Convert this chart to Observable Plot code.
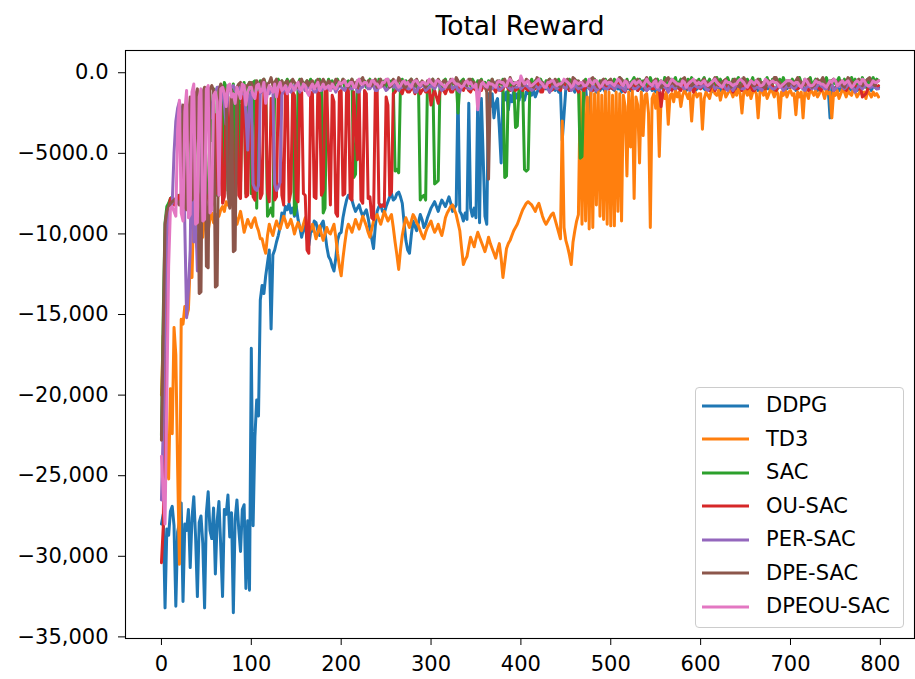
<!DOCTYPE html>
<html>
<head>
<meta charset="utf-8">
<script src="https://cdn.jsdelivr.net/npm/d3@7"></script>
<script src="https://cdn.jsdelivr.net/npm/@observablehq/plot@0.6"></script>
<style>
  html, body { margin: 0; padding: 0; background: #fff; overflow: hidden; }
  #fig { position: relative; width: 915px; height: 679px; font-family: "DejaVu Sans", sans-serif; color: #000; }
  #title { margin-left: 125px; width: 790px; height: 40px; box-sizing: border-box; padding-top: 13px;
           text-align: center; font-size: 26.5px; line-height: 26.5px; }
  #chart svg { display: block; }
  #legend { position: absolute; left: 695px; top: 387px; width: 209px; height: 241px; box-sizing: border-box;
            border: 1px solid #cccccc; border-radius: 4px; background: rgba(255,255,255,0.8); padding-top: 1px; }
  #legend .item { height: 33.5px; display: flex; align-items: center; font-size: 21px; line-height: 21px; }
  #legend .item svg { margin-left: 6px; display: block; }
  #legend .item span { margin-left: 17px; }
</style>
</head>
<body>
<div id="fig">
  <div id="title">Total Reward</div>
  <div id="chart"></div>
  <div id="legend"></div>
</div>
<script>
// Algorithms in drawing order (the last one ends up on top) and their colours.
const seriesNames = ["DDPG", "TD3", "SAC", "OU-SAC", "PER-SAC", "DPE-SAC", "DPEOU-SAC"];
const seriesColors = ["#1f77b4", "#ff7f0e", "#2ca02c", "#d62728", "#9467bd", "#8c564b", "#e377c2"];

// One reward value is kept every `episodeStep` episodes (episodes 0 … 798).
const episodeStep = 2;

const xTicks = [0, 100, 200, 300, 400, 500, 600, 700, 800];
const yTicks = [0, -5000, -10000, -15000, -20000, -25000, -30000, -35000];
const yTickLabels = ["0.0", "\u22125000.0", "\u221210,000", "\u221215,000", "\u221220,000", "\u221225,000", "\u221230,000", "\u221235,000"];

// Total reward per episode, one line per 100 episodes.
const ddpg = [
  -28000, -27400, -33200, -28300, -28700, -27200, -26900, -28100, -33100, -28500, -27900, -26700, -32800, -28000, -28400, -27100, -30700, -27600, -26300, -28800, -32500, -27900, -27500, -29200, -33200, -27300, -26000, -28400, -28900, -27000, -31100, -27800, -26600, -29400, -32500, -27100, -27400, -26200, -28800, -27300, -33500, -27700, -26500, -28300, -29700, -27100, -26800, -32000, -27800, -32100,
  -17100, -28100, -22600, -20300, -21300, -14100, -13200, -13700, -12600, -11800, -11000, -15900, -11300, -11000, -10500, -10100, -9600, -8700, -9000, -8300, -8500, -8100, -8700, -8400, -8900, -8300, -9100, -9600, -10200, -9700, -9500, -10300, -10700, -9900, -9800, -9200, -9300, -9800, -10100, -9400, -9200, -9900, -10800, -11400, -11600, -12000, -12300, -11500, -10400, -10000,
  -9900, -9000, -8400, -7900, -7600, -7700, -7900, -8300, -8600, -8400, -8200, -8600, -8900, -8700, -8500, -9000, -9700, -10300, -10900, -9500, -8600, -8300, -8200, -8600, -8700, -8300, -8000, -7700, -7500, -7900, -7800, -7500, -7400, -7700, -8100, -9300, -10400, -11000, -11200, -10100, -9200, -9500, -9800, -9300, -8800, -9100, -9600, -9400, -9000, -8700,
  -8400, -8200, -8000, -8300, -8600, -8200, -7900, -8100, -8300, -8000, -7700, -8100, -8600, -8400, -8200, -1100, -8600, -8800, -9200, -8700, -9100, -1900, -8400, -8900, -8400, -9000, -1500, -9300, -1600, -5200, -8900, -9400, -1300, -2100, -1300, -2800, -1900, -1600, -3400, -5600, -1200, -1700, -1200, -2300, -1400, -1800, -1100, -1600, -1300, -1700,
  -1100, -1500, -1700, -1200, -1300, -1000, -1400, -1100, -1500, -1200, -1000, -900, -1100, -800, -1000, -900, -1200, -800, -1000, -1100, -900, -1200, -1000, -4200, -2600, -1000, -800, -1100, -900, -1000, -1200, -900, -1100, -800, -1000, -1200, -900, -2200, -2600, -1100, -900, -1000, -1200, -800, -1100, -900, -1000, -1200, -800, -1000,
  -900, -1000, -1100, -800, -1000, -900, -1200, -800, -700, -1000, -900, -1100, -1000, -800, -800, -1100, -900, -1000, -1100, -700, -900, -1000, -700, -1100, -1000, -1200, -1200, -900, -800, -1000, -900, -800, -1100, -900, -800, -1000, -1000, -900, -900, -800, -700, -1000, -1100, -900, -900, -800, -800, -1100, -1000, -900,
  -800, -900, -1000, -1100, -900, -800, -1200, -1000, -700, -900, -900, -1100, -1100, -800, -800, -1000, -1000, -900, -900, -1200, -800, -1000, -1100, -700, -700, -900, -900, -1000, -1000, -1100, -800, -900, -1100, -1000, -900, -800, -700, -1000, -1000, -900, -800, -1100, -1200, -900, -900, -800, -800, -1000, -1000, -900,
  -900, -800, -800, -1100, -1000, -900, -700, -1000, -1100, -800, -900, -1000, -800, -700, -1000, -1100, -900, -800, -700, -900, -1100, -1000, -2800, -900, -900, -1000, -800, -1100, -1000, -900, -700, -800, -900, -1000, -1100, -900, -800, -1100, -1000, -900, -900, -800, -700, -1000, -900, -1100, -800, -900, -1000, -900
];
const td3 = [
  -20000, -16300, -17000, -23800, -25200, -19600, -22400, -15800, -17500, -24500, -30500, -15300, -15600, -14500, -15100, -14700, -11800, -12700, -8100, -10300, -10900, -11600, -9600, -10200, -9000, -9500, -9800, -9100, -8700, -9300, -9400, -8800, -8900, -8500, -8300, -8600, -8000, -8200, -8300, -8100, -8200, -8800, -9400, -9000, -8600, -9200, -9900, -9500, -9100, -9400,
  -9600, -9200, -9000, -9500, -9800, -10300, -10300, -10800, -11200, -10100, -9400, -9800, -10100, -9600, -9200, -9500, -9700, -9300, -8900, -9200, -9600, -9400, -9100, -9500, -10000, -9600, -9300, -9600, -9800, -9400, -9000, -9500, -9900, -9700, -9400, -9800, -10300, -9900, -9500, -10000, -10400, -10000, -9600, -9900, -10000, -9700, -9400, -10200, -11200, -12000,
  -12600, -11500, -10600, -9800, -9400, -9600, -9900, -9500, -9100, -9400, -9700, -9300, -8900, -9200, -9500, -9900, -10200, -9700, -9200, -9000, -8800, -9100, -9400, -9000, -8600, -8900, -9200, -9000, -8800, -9600, -10500, -11300, -12200, -11000, -10100, -9500, -9000, -9300, -9600, -9200, -8800, -9000, -9300, -9500, -9800, -10100, -10300, -9900, -9600, -9400,
  -9200, -9600, -9900, -9700, -9400, -9800, -10100, -9600, -9000, -8700, -8500, -8300, -8200, -8500, -8800, -9300, -9800, -10900, -11900, -11600, -11400, -10800, -10200, -10500, -10800, -10300, -9900, -10200, -10500, -10800, -11100, -10700, -10200, -10600, -10900, -11200, -11500, -11000, -10600, -11500, -12700, -11800, -10900, -10600, -10400, -10100, -9800, -9600, -9400, -9100,
  -8800, -8500, -8300, -8100, -8000, -8100, -8200, -8400, -8600, -8300, -8100, -8500, -8900, -9200, -9400, -9200, -9000, -8800, -8700, -9100, -9500, -9900, -10300, -3000, -9600, -10400, -10800, -11300, -11900, -10500, -9800, -9200, -8800, -1200, -9400, -1000, -9200, -1500, -9700, -1100, -9600, -1300, -8200, -1000, -8900, -1400, -9100, -1100, -9400, -1200,
  -9500, -1400, -9500, -1200, -8600, -1300, -9200, -1400, -2100, -6400, -1200, -4600, -1100, -7800, -1500, -2000, -5600, -1200, -3900, -1400, -1300, -2500, -9600, -1600, -1300, -2200, -1200, -5200, -1500, -1300, -1600, -1200, -3200, -1400, -1300, -1800, -1100, -1500, -1200, -2100, -1400, -1100, -1300, -1600, -1200, -3000, -1400, -1200, -1500, -1300,
  -1300, -3500, -1600, -1200, -1400, -1600, -1100, -1000, -1300, -1400, -1100, -1700, -1200, -1000, -1500, -1300, -1100, -1200, -1500, -1100, -1400, -1000, -1300, -2500, -1200, -1100, -1400, -1000, -1600, -1200, -1100, -1300, -2800, -1200, -1000, -1400, -1100, -1600, -1300, -1000, -1200, -1500, -1100, -1300, -2800, -1200, -1400, -1000, -1500, -1200,
  -1100, -1400, -1300, -2600, -1200, -1500, -1200, -2800, -1100, -1300, -1600, -1000, -1200, -1400, -1100, -1500, -1300, -1000, -1200, -1600, -1100, -1300, -1200, -2800, -1200, -1400, -1100, -1600, -1300, -1000, -1200, -1500, -1100, -1300, -1400, -1000, -1200, -1500, -1300, -1100, -1400, -1200, -1600, -1100, -1300, -1500, -1200, -1400, -1300, -1500
];
const sac = [
  -22500, -15000, -9300, -8300, -8100, -7800, -7700, -8100, -8000, -7600, -7800, -8000, -2200, -7900, -7900, -8300, -8200, -1500, -7700, -8100, -7600, -7900, -8000, -1200, -7800, -7500, -7500, -4000, -4200, -1000, -7400, -7600, -1100, -900, -7300, -600, -900, -7300, -7500, -1200, -700, -7900, -1000, -800, -6800, -1100, -600, -7500, -900, -600,
  -7500, -600, -500, -8400, -1200, -500, -900, -400, -700, -8900, -8700, -8400, -8900, -1000, -600, -400, -900, -500, -1000, -700, -400, -800, -500, -900, -8800, -8300, -700, -400, -900, -600, -1100, -500, -800, -400, -700, -900, -500, -800, -400, -600, -8700, -8400, -800, -400, -700, -500, -900, -600, -400, -800,
  -700, -400, -900, -600, -500, -800, -400, -6500, -6300, -500, -800, -400, -700, -500, -900, -600, -400, -800, -500, -700, -1000, -400, -800, -600, -500, -900, -400, -700, -500, -800, -6100, -6000, -6200, -700, -400, -900, -500, -800, -600, -400, -700, -500, -900, -600, -7900, -7700, -7600, -7900, -700, -500,
  -800, -400, -6900, -6800, -6700, -600, -900, -500, -400, -800, -600, -900, -500, -700, -400, -2500, -800, -500, -400, -900, -700, -500, -800, -400, -600, -900, -500, -700, -400, -800, -600, -900, -500, -700, -400, -800, -600, -900, -500, -700, -400, -6500, -6400, -800, -500, -900, -600, -3400, -3300, -700,
  -500, -800, -6000, -6100, -6000, -700, -400, -900, -500, -800, -600, -400, -700, -900, -500, -800, -400, -600, -900, -500, -700, -400, -800, -600, -900, -500, -700, -400, -800, -600, -900, -500, -700, -5300, -5200, -800, -400, -900, -600, -500, -800, -400, -700, -900, -500, -600, -800, -400, -700, -500,
  -500, -800, -400, -700, -600, -300, -800, -500, -700, -400, -900, -600, -500, -300, -700, -800, -400, -600, -500, -900, -400, -700, -300, -600, -800, -600, -400, -700, -500, -900, -300, -600, -800, -400, -700, -500, -300, -800, -600, -400, -700, -500, -900, -400, -600, -300, -700, -500, -800, -400,
  -700, -500, -300, -800, -600, -400, -700, -500, -900, -300, -600, -400, -800, -500, -700, -300, -600, -900, -400, -700, -500, -300, -600, -400, -500, -800, -400, -700, -600, -300, -800, -500, -700, -400, -900, -600, -500, -300, -700, -800, -400, -600, -500, -900, -400, -700, -300, -600, -800, -500,
  -600, -400, -700, -500, -900, -300, -600, -800, -400, -700, -500, -300, -800, -600, -400, -700, -500, -900, -400, -600, -300, -700, -500, -800, -400, -700, -500, -300, -800, -600, -400, -700, -500, -900, -300, -600, -400, -800, -500, -700, -300, -600, -900, -400, -700, -500, -300, -600, -400, -500
];
const ouSac = [
  -30400, -28200, -18000, -11000, -8500, -7800, -7800, -8200, -8200, -7900, -7600, -8000, -8300, -7700, -7900, -8200, -8100, -7600, -7700, -8000, -8400, -7800, -7500, -8100, -8000, -7600, -7700, -8200, -8300, -7900, -2600, -7500, -7600, -1900, -8100, -7700, -1800, -1500, -7400, -2300, -8200, -7900, -1500, -7600, -7800, -1000, -1300, -7700, -7600, -2000,
  -3400, -7700, -7900, -1300, -1200, -7800, -7500, -1100, -1000, -7400, -8000, -1600, -2000, -7900, -7700, -900, -1100, -7600, -8200, -1000, -900, -8000, -7400, -1200, -1400, -7800, -8000, -1100, -1000, -7500, -7600, -11000, -11200, -1300, -1200, -7700, -7800, -1000, -1500, -7600, -7300, -1100, -900, -5000, -8200, -1400, -1800, -8700, -8900, -1200,
  -1100, -7600, -7500, -1000, -900, -7800, -7900, -1200, -3300, -5400, -1000, -7900, -8100, -1100, -1300, -7800, -7700, -9000, -9100, -1200, -1000, -8100, -8300, -8200, -8300, -1500, -2000, -7600, -7400, -1300, -1200, -1000, -900, -1100, -1300, -900, -1000, -1200, -1200, -1000, -900, -1300, -1100, -900, -1300, -1100, -1000, -1200, -1200, -1000,
  -2000, -1400, -1100, -1500, -1900, -1200, -1000, -1100, -1300, -1000, -900, -1200, -1200, -900, -1000, -1100, -800, -1000, -1100, -800, -900, -1100, -1200, -900, -1000, -1100, -800, -1000, -1100, -800, -900, -1100, -1000, -800, -800, -1000, -1200, -900, -900, -1100, -1000, -800, -800, -1000, -1100, -900, -900, -1100, -1000, -900,
  -900, -1100, -700, -1000, -1100, -800, -700, -1000, -1000, -700, -600, -1200, -1200, -800, -900, -700, -700, -1100, -1000, -800, -800, -1000, -1100, -700, -600, -900, -900, -1100, -1000, -700, -700, -1000, -1200, -800, -800, -1100, -900, -600, -600, -1000, -1100, -900, -800, -1000, -1000, -700, -700, -900, -900, -1000,
  -800, -1000, -1000, -700, -600, -900, -900, -1100, -1200, -800, -700, -1000, -1000, -800, -800, -1100, -900, -700, -600, -1000, -1100, -800, -800, -1000, -1000, -700, -700, -1000, -2100, -1200, -900, -800, -800, -1000, -1100, -700, -600, -900, -1000, -1100, -800, -700, -900, -1000, -700, -900, -1200, -1000, -800, -900,
  -1000, -800, -700, -900, -900, -1100, -800, -700, -1100, -900, -600, -800, -900, -1000, -1000, -800, -700, -900, -1200, -1000, -800, -700, -900, -1100, -600, -800, -1000, -900, -800, -1100, -1100, -900, -700, -800, -900, -1000, -1000, -700, -600, -800, -800, -1000, -1100, -900, -700, -800, -900, -1000, -800, -900,
  -900, -800, -700, -1000, -1000, -900, -800, -700, -600, -900, -1100, -1000, -900, -800, -700, -900, -1000, -1100, -800, -700, -900, -1000, -600, -800, -1100, -1000, -800, -700, -700, -900, -1000, -1100, -900, -800, -600, -700, -800, -900, -1000, -900, -1500, -1400, -1300, -1000, -900, -800, -700, -800, -900, -800
];
const perSac = [
  -26500, -22000, -14500, -10000, -8600, -8300, -8100, -5000, -3000, -2200, -1800, -2300, -2500, -9500, -15200, -13500, -11000, -2300, -10500, -8700, -12300, -10200, -8300, -2500, -1400, -1200, -1000, -1900, -2800, -1100, -1200, -900, -900, -1300, -1100, -2000, -3200, -1200, -1000, -900, -800, -1100, -1200, -900, -900, -1300, -1000, -2600, -4800, -1500,
  -1200, -6900, -7200, -7300, -7000, -1300, -1100, -900, -900, -1200, -1300, -1000, -1000, -6900, -7300, -7100, -6800, -1400, -1100, -900, -900, -1100, -1200, -1000, -800, -900, -1000, -1200, -900, -800, -1100, -1000, -800, -900, -1000, -1200, -1200, -900, -900, -1100, -1000, -800, -800, -1000, -1100, -900, -900, -1200, -1000, -800,
  -900, -1000, -1100, -800, -700, -1000, -1000, -900, -800, -1200, -1200, -900, -900, -700, -700, -1000, -1000, -800, -800, -1100, -1100, -900, -600, -800, -900, -1100, -1000, -800, -800, -900, -700, -1000, -1100, -900, -900, -800, -800, -1000, -1000, -700, -700, -1200, -1200, -900, -900, -800, -800, -1100, -1000, -900,
  -800, -900, -1000, -800, -700, -900, -1100, -1000, -900, -700, -600, -800, -1000, -900, -800, -1100, -1200, -900, -700, -800, -900, -1000, -1000, -900, -800, -800, -1100, -1000, -700, -800, -900, -1000, -800, -700, -1000, -900, -600, -900, -1100, -1000, -900, -800, -700, -900, -1000, -1100, -800, -900, -900, -800,
  -1000, -900, -700, -800, -900, -1000, -1100, -1000, -800, -900, -1000, -800, -600, -700, -900, -1000, -1200, -1000, -800, -900, -1000, -900, -700, -800, -900, -1000, -800, -700, -1100, -1000, -700, -900, -1000, -900, -900, -800, -600, -800, -1000, -1100, -800, -900, -1100, -1000, -700, -800, -900, -1000, -1000, -900,
  -700, -900, -1000, -900, -800, -900, -900, -1000, -1100, -800, -600, -800, -900, -1000, -1000, -900, -800, -700, -700, -900, -1100, -1000, -900, -800, -800, -900, -1000, -1100, -700, -800, -900, -1000, -1200, -900, -800, -900, -1000, -800, -700, -800, -900, -1000, -800, -900, -1100, -900, -700, -800, -900, -900,
  -900, -800, -800, -1000, -1100, -900, -700, -800, -1000, -900, -900, -800, -600, -800, -1000, -1100, -800, -900, -1100, -900, -700, -800, -900, -1000, -1000, -900, -800, -700, -600, -800, -1000, -900, -900, -1000, -1100, -900, -700, -800, -800, -900, -1000, -1000, -900, -800, -700, -900, -1100, -1000, -800, -900,
  -800, -900, -1000, -900, -700, -800, -900, -1000, -1100, -900, -800, -900, -1000, -900, -1000, -800, -600, -800, -900, -1000, -1000, -900, -800, -700, -1100, -1000, -900, -800, -800, -900, -1000, -900, -700, -800, -900, -1000, -1200, -1000, -800, -900, -1000, -900, -700, -800, -900, -900, -800, -900, -1000, -1000
];
const dpeSac = [
  -22800, -16000, -9400, -8600, -8300, -8100, -8000, -7900, -7800, -8000, -8200, -7900, -2000, -8300, -8500, -2800, -1500, -7900, -7600, -1400, -1000, -13700, -13600, -1200, -900, -12000, -12100, -1000, -800, -1100, -13300, -13200, -1100, -700, -900, -1000, -1300, -7500, -8400, -1100, -11100, -11000, -900, -700, -600, -1000, -1200, -800, -800, -600,
  -600, -900, -1000, -500, -700, -800, -500, -400, -900, -700, -600, -300, -800, -600, -400, -900, -700, -500, -900, -600, -500, -800, -700, -400, -600, -700, -900, -500, -400, -800, -700, -500, -800, -600, -500, -900, -900, -400, -600, -700, -400, -600, -800, -500, -600, -900, -700, -400, -500, -800,
  -700, -400, -500, -800, -900, -600, -400, -700, -600, -900, -800, -500, -300, -700, -700, -500, -500, -800, -600, -400, -900, -600, -400, -800, -700, -500, -500, -900, -800, -400, -600, -700, -300, -500, -700, -900, -900, -600, -500, -400, -600, -800, -400, -700, -800, -500, -700, -900, -500, -600,
  -600, -400, -800, -700, -400, -600, -700, -500, -500, -900, -900, -400, -600, -700, -300, -500, -700, -800, -500, -600, -800, -400, -400, -700, -600, -900, -900, -500, -500, -800, -700, -1200, -6600, -900, -400, -700, -800, -500, -600, -700, -500, -400, -700, -800, -300, -600, -800, -700, -600, -500,
  -500, -800, -700, -400, -500, -600, -800, -900, -600, -300, -400, -700, -600, -900, -800, -500, -400, -600, -700, -400, -500, -800, -900, -700, -600, -500, -400, -900, -800, -300, -400, -600, -500, -800, -700, -500, -600, -700, -800, -400, -300, -600, -500, -900, -800, -500, -400, -700, -600, -500,
  -400, -700, -800, -600, -500, -300, -400, -700, -600, -500, -800, -900, -700, -600, -500, -400, -700, -800, -600, -500, -300, -600, -800, -700, -500, -400, -600, -700, -900, -800, -600, -400, -300, -700, -600, -500, -800, -700, -900, -600, -400, -300, -600, -700, -500, -800, -700, -600, -500, -600,
  -700, -500, -400, -600, -600, -900, -800, -500, -300, -400, -800, -700, -600, -500, -400, -700, -600, -900, -500, -400, -600, -800, -900, -700, -300, -500, -700, -600, -500, -800, -800, -500, -400, -600, -600, -900, -900, -700, -500, -600, -700, -300, -300, -600, -600, -800, -800, -700, -500, -800,
  -500, -600, -800, -500, -300, -500, -600, -800, -700, -500, -400, -700, -900, -800, -500, -400, -600, -500, -300, -600, -800, -900, -700, -500, -400, -500, -600, -700, -500, -800, -900, -600, -300, -400, -700, -800, -600, -500, -400, -700, -800, -600, -500, -400, -300, -600, -700, -800, -500, -500
];
const dpeouSac = [
  -23800, -26000, -28000, -20000, -12000, -8400, -8300, -8600, -8900, -3500, -1700, -8700, -9200, -2400, -1100, -9000, -8800, -1200, -700, -9400, -9300, -1500, -1000, -9200, -9100, -1000, -800, -8700, -8500, -1400, -1200, -1800, -7600, -1000, -900, -1300, -2100, -800, -700, -1500, -1300, -1900, -900, -1200, -1600, -700, -800, -2000, -1200, -900,
  -900, -1400, -1600, -800, -700, -1200, -1100, -600, -1900, -1300, -800, -1000, -1200, -700, -1500, -900, -600, -1100, -1000, -800, -1300, -1000, -700, -900, -1100, -800, -600, -1000, -1100, -700, -800, -1200, -1400, -900, -700, -1000, -800, -600, -1100, -900, -700, -1000, -900, -800, -1100, -700, -900, -1000, -800, -600,
  -700, -600, -500, -800, -800, -600, -600, -900, -900, -500, -400, -700, -700, -600, -600, -800, -800, -500, -500, -700, -700, -900, -900, -600, -600, -400, -400, -800, -700, -600, -500, -700, -900, -800, -600, -500, -700, -600, -800, -900, -600, -500, -500, -700, -800, -600, -600, -700, -700, -400,
  -600, -700, -800, -500, -500, -600, -700, -800, -900, -700, -600, -500, -400, -600, -700, -700, -800, -900, -800, -600, -500, -700, -600, -800, -900, -700, -2300, -1200, -700, -600, -800, -900, -600, -700, -700, -800, -900, -600, -500, -600, -600, -800, -800, -500, -400, -600, -700, -600, -600, -800,
  -200, -500, -700, -600, -500, -800, -800, -700, -600, -500, -400, -600, -700, -900, -900, -600, -600, -500, -500, -700, -800, -700, -700, -600, -400, -500, -600, -700, -900, -800, -500, -600, -700, -600, -600, -800, -800, -700, -400, -600, -700, -500, -500, -700, -900, -800, -600, -500, -700, -600,
  -600, -700, -800, -600, -400, -500, -700, -800, -500, -600, -900, -800, -600, -500, -700, -600, -500, -700, -800, -600, -400, -600, -700, -800, -600, -500, -900, -700, -500, -600, -700, -800, -800, -600, -400, -500, -600, -700, -700, -800, -500, -600, -900, -700, -600, -500, -400, -600, -700, -600,
  -700, -600, -500, -700, -800, -700, -600, -500, -400, -600, -700, -800, -900, -700, -500, -600, -600, -700, -800, -700, -700, -500, -400, -500, -600, -800, -900, -700, -500, -600, -700, -500, -600, -800, -800, -700, -400, -500, -700, -600, -500, -600, -600, -700, -900, -800, -700, -600, -500, -500,
  -500, -600, -700, -600, -600, -800, -900, -700, -400, -500, -700, -800, -800, -700, -500, -600, -600, -700, -700, -800, -900, -700, -500, -600, -400, -500, -800, -700, -600, -500, -700, -600, -500, -700, -900, -800, -600, -500, -600, -700, -400, -500, -700, -800, -800, -700, -500, -600, -600, -500
];

const rewardsBySeries = [ddpg, td3, sac, ouSac, perSac, dpeSac, dpeouSac];

// Long-format table for Plot: one row per (algorithm, episode).
const rows = seriesNames.flatMap((name, s) =>
  rewardsBySeries[s].map((reward, i) => ({series: name, episode: i * episodeStep, reward}))
);

const yLabelByValue = new Map(yTicks.map((v, i) => [v, yTickLabels[i]]));

const chart = Plot.plot({
  width: 915,
  height: 639,
  marginLeft: 125,
  marginRight: 1,
  marginTop: 10,
  marginBottom: 41,
  style: {fontFamily: "'DejaVu Sans', sans-serif", fontSize: "21px", color: "#000", background: "#fff", overflow: "visible"},
  x: {domain: [-40, 838], ticks: xTicks, tickSize: 7, tickPadding: 11, label: null},
  y: {domain: [-35100, 1380], ticks: yTicks, tickFormat: d => yLabelByValue.get(d), tickSize: 7, tickPadding: 10, label: null},
  color: {domain: seriesNames, range: seriesColors},
  marks: [
    Plot.line(rows, {x: "episode", y: "reward", z: "series", stroke: "series", strokeWidth: 3}),
    Plot.frame({stroke: "#000", strokeWidth: 1.1})
  ]
});
document.getElementById("chart").appendChild(chart);

// Legend box in the lower right corner of the axes.
const legend = document.getElementById("legend");
seriesNames.forEach((name, i) => {
  const item = document.createElement("div");
  item.className = "item";
  item.innerHTML = `<svg width="47" height="4"><line x1="0" y1="2" x2="47" y2="2" stroke="${seriesColors[i]}" stroke-width="3"/></svg><span>${name}</span>`;
  legend.appendChild(item);
});
</script>
</body>
</html>
